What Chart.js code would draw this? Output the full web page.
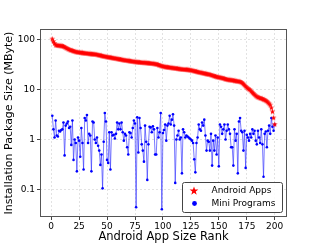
<!DOCTYPE html>
<html>
<head>
<meta charset="utf-8">
<script src="https://cdn.jsdelivr.net/npm/chart.js@4.4.0/dist/chart.umd.min.js"></script>
<style>
    html, body { margin: 0; padding: 0; background: #fff; }
</style>
</head>
<body>
<canvas id="chart" width="319" height="244"></canvas>
<script>
// size (MByte) of each Android app, by rank
const androidApps = [
    103, 92, 84, 78, 77, 76.5, 76, 75.5, 75, 74.5,
    73, 71, 69, 67, 65, 63.5, 62, 61, 60, 59,
    58, 57, 56.5, 56, 55.5, 55, 54.7, 54.4, 54, 53.6,
    53.3, 53, 52.6, 52.3, 52, 51.7, 51.4, 51.2, 51, 50.6,
    50, 49.4, 48.8, 48.2, 47.6, 47, 46.5, 46, 45.5, 45,
    44.6, 44.2, 43.8, 43.4, 43, 42.6, 42.2, 41.8, 41.4, 41,
    40.6, 40.2, 39.8, 39.4, 39, 38.7, 38.4, 38.1, 37.8, 37.5,
    37.2, 36.9, 36.6, 36.3, 36, 35.8, 35.6, 35.4, 35.2, 35,
    34.8, 34.7, 34.6, 34.5, 34.3, 34.1, 33.9, 33.7, 33.5, 33.3,
    33.1, 32.9, 32.6, 32.2, 31.8, 31.2, 30.6, 30, 29.6, 29.2,
    28.8, 28.5, 28.3, 28.1, 27.9, 27.7, 27.5, 27.3, 27.1, 26.9,
    26.7, 26.5, 26.3, 26.1, 25.9, 25.7, 25.5, 25.4, 25.3, 25.2,
    25.1, 25, 24.8, 24.6, 24.4, 24.1, 23.8, 23.5, 23.2, 22.9,
    22.6, 22.3, 22, 21.8, 21.6, 21.3, 21, 20.8, 20.6, 20.4,
    20.2, 20, 19.6, 19.2, 18.9, 18.6, 18.3, 18, 17.8, 17.6,
    17.4, 17.2, 17, 16.8, 16.5, 16.2, 16, 15.8, 15.7, 15.6,
    15.5, 15.4, 15.2, 15, 14.9, 14.8, 14.6, 14.5, 14.4, 14,
    13.5, 12.9, 12.3, 11.6, 11, 10.5, 10.1, 9.8, 9.2, 8.7,
    8.3, 7.9, 7.5, 7.2, 7.0, 6.9, 6.7, 6.6, 6.5, 6.3,
    6.2, 6.0, 5.8, 5.5, 5.2, 4.9, 4.3, 3.6, 2.7, 2.0
];

// size (MByte) of the matching mini program
const miniPrograms = [
    3.0, 1.6, 1.1, 2.4, 1.2, 1.15, 1.5, 1.45, 1.55, 1.6,
    2.2, 0.48, 1.9, 2.1, 2.3, 1.7, 1.8, 0.78, 2.4, 0.39,
    1.0, 0.85, 0.23, 1.1, 0.95, 0.45, 1.7, 0.85, 0.25, 2.7,
    2.4, 3.1, 0.85, 1.3, 1.2, 0.23, 2.3, 2.2, 1.0, 0.85,
    1.1, 0.75, 0.6, 0.31, 0.5, 0.105, 0.9, 3.4, 2.3, 0.39,
    0.34, 1.4, 0.25, 1.4, 1.2, 1.25, 1.05, 1.3, 2.2, 1.6,
    2.1, 1.6, 2.2, 1.4, 0.95, 1.3, 1.2, 0.7, 0.5, 1.4,
    1.35, 1.1, 1.7, 2.4, 2.1, 0.044, 2.8, 0.55, 2.7, 1.7,
    0.8, 0.6, 0.36, 1.9, 0.9, 0.155, 0.8, 1.8, 1.75, 1.4,
    1.85, 1.6, 0.5, 0.5, 1.7, 1.1, 1.4, 3.4, 0.04, 1.35,
    1.55, 2.0, 0.95, 1.9, 2.1, 3.0, 2.0, 2.5, 3.2, 1.9,
    0.135, 1.0, 1.2, 1.5, 1.0, 1.1, 0.21, 1.6, 1.4, 1.1,
    1.2, 1.15, 1.1, 1.05, 1.0, 0.95, 0.85, 0.4, 0.22, 0.85,
    1.1, 2.0, 1.6, 1.5, 2.2, 1.9, 2.5, 1.2, 0.6, 0.95,
    0.9, 0.6, 1.3, 0.3, 0.95, 0.6, 1.2, 0.5, 1.1, 0.29,
    2.0, 1.8, 1.3, 1.6, 2.0, 1.0, 1.5, 2.0, 1.6, 1.3,
    0.7, 0.7, 0.3, 1.6, 0.95, 1.3, 0.21, 2.3, 2.7, 1.5,
    1.4, 0.6, 1.5, 0.27, 1.25, 1.1, 0.95, 1.3, 1.1, 1.6,
    1.3, 1.5, 0.95, 0.8, 1.5, 1.1, 0.85, 1.6, 0.8, 0.18,
    1.3, 1.45, 0.7, 1.5, 1.9, 1.3, 2.7, 1.8, 1.5, 2.0
];

const seriesNames = ["Android Apps", "Mini Programs"];
const xTicks = [0, 25, 50, 75, 100, 125, 150, 175, 200];
const yTicks = [0.1, 1, 10, 100];

const FONT = "'DejaVu Sans', sans-serif";

// filled 5-point star, used as point style
function makeStar(size, r, color) {
    const c = document.createElement("canvas");
    c.width = size;
    c.height = size;
    const g = c.getContext("2d");
    const cx = size / 2, cy = size / 2;
    g.beginPath();
    for (let i = 0; i < 10; i++) {
        const rad = i % 2 === 0 ? r : r * 0.4;
        const a = -Math.PI / 2 + i * Math.PI / 5;
        const px = cx + rad * Math.cos(a), py = cy + rad * Math.sin(a);
        if (i === 0) g.moveTo(px, py); else g.lineTo(px, py);
    }
    g.closePath();
    g.fillStyle = color;
    g.fill();
    return c;
}

const starPoint = makeStar(7, 3.0, "#ff0000");
const starLegend = makeStar(10, 4.6, "#ff0000");

const toPoints = (arr) => arr.map((v, i) => ({ x: i + 1, y: v }));

const framePlugin = {
    id: "frame",
    afterDatasetsDraw(chart) {
        const { ctx, chartArea: a } = chart;
        ctx.save();
        ctx.strokeStyle = "#555";
        ctx.lineWidth = 1;
        ctx.strokeRect(Math.round(a.left) + 0.5, Math.round(a.top) + 0.5,
            Math.round(a.right - a.left) - 1, Math.round(a.bottom - a.top) - 1);
        ctx.restore();
    },
};

const legendPlugin = {
    id: "boxLegend",
    afterDraw(chart) {
        const ctx = chart.ctx;
        const x = 182, y = 182, w = 100, h = 30;
        ctx.save();
        ctx.beginPath();
        ctx.roundRect(x + 0.5, y + 0.5, w, h, 2);
        ctx.fillStyle = "rgba(255,255,255,0.85)";
        ctx.fill();
        ctx.strokeStyle = "#444";
        ctx.lineWidth = 1;
        ctx.stroke();

        ctx.drawImage(starLegend, 194 - 5, 191 - 5);
        ctx.beginPath();
        ctx.arc(194.5, 203.5, 2.4, 0, Math.PI * 2);
        ctx.fillStyle = "#0000ff";
        ctx.fill();

        ctx.fillStyle = "#000";
        ctx.font = "9px " + FONT;
        ctx.textBaseline = "middle";
        ctx.fillText(seriesNames[0], 211.5, 190.5);
        ctx.fillText(seriesNames[1], 211.5, 203.5);
        ctx.restore();
    },
};

new Chart(document.getElementById("chart"), {
    type: "scatter",
    data: {
        datasets: [
            {
                label: seriesNames[0],
                data: toPoints(androidApps),
                pointStyle: starPoint,
                showLine: false,
                order: 0,
            },
            {
                label: seriesNames[1],
                data: toPoints(miniPrograms),
                showLine: true,
                borderColor: "rgba(50,50,255,0.65)",
                borderWidth: 1,
                pointRadius: 1.3,
                pointBorderWidth: 0,
                pointBackgroundColor: "#0000ff",
                order: 1,
            },
        ],
    },
    options: {
        responsive: false,
        animation: false,
        devicePixelRatio: 1,
        layout: { padding: { top: 29, right: 32, left: 0, bottom: 0 } },
        plugins: { legend: { display: false }, tooltip: { enabled: false } },
        scales: {
            x: {
                type: "linear",
                min: -10,
                max: 211,
                afterBuildTicks: (s) => { s.ticks = xTicks.map((v) => ({ value: v })); },
                afterFit: (s) => { s.height = 27; },
                ticks: {
                    color: "#000",
                    font: { family: FONT, size: 9 },
                    padding: 1,
                    maxRotation: 0,
                },
                grid: {
                    color: "#e2e2e2",
                    tickColor: "#444",
                    tickLength: 3,
                    tickBorderDash: [],
                },
                border: { display: false, dash: [2, 2] },
                title: {
                    display: true,
                    text: "Android App Size Rank",
                    color: "#000",
                    font: { family: FONT, size: 11.5 },
                    padding: { top: 0, bottom: 0 },
                },
            },
            y: {
                type: "logarithmic",
                min: 0.028,
                max: 164,
                afterBuildTicks: (s) => { s.ticks = yTicks.map((v) => ({ value: v })); },
                afterFit: (s) => { s.width = 40; },
                ticks: {
                    color: "#000",
                    font: { family: FONT, size: 9 },
                    padding: 2,
                    callback: (v) => String(v),
                },
                grid: {
                    color: "#e2e2e2",
                    tickColor: "#444",
                    tickLength: 3,
                    tickBorderDash: [],
                },
                border: { display: false, dash: [2, 2] },
                title: {
                    display: true,
                    text: "Installation Package Size (MByte)",
                    color: "#000",
                    font: { family: FONT, size: 11 },
                    padding: { top: 3, bottom: 0 },
                },
            },
        },
    },
    plugins: [framePlugin, legendPlugin],
});
</script>
</body>
</html>
